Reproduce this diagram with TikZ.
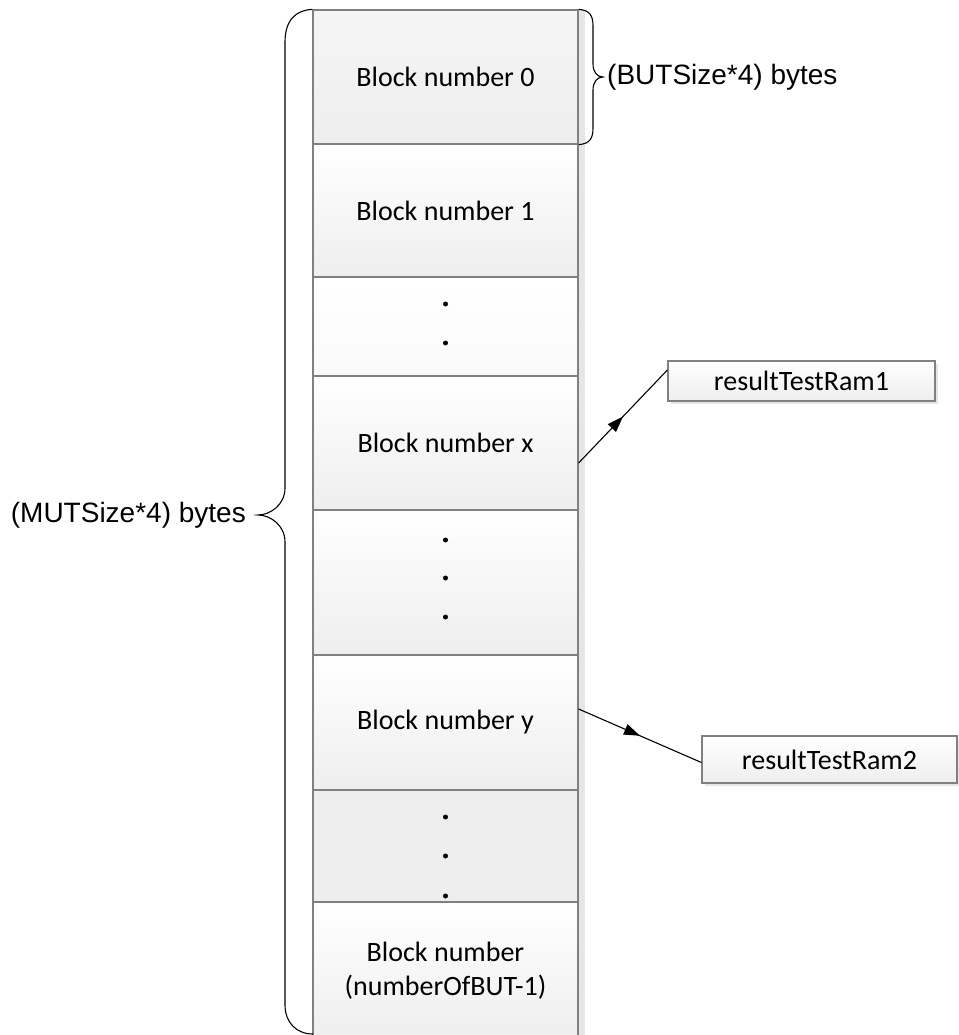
\documentclass[tikz,border=0pt]{standalone}
\usepackage{fontspec}
\setmainfont{Carlito}
\newfontfamily\arialf{Liberation Sans}
\usetikzlibrary{arrows.meta,decorations.markings}
\definecolor{edgegray}{HTML}{808080}
\definecolor{shadegray}{HTML}{EEEEEE}
\definecolor{shadowgray}{HTML}{E6E6E6}
\tikzset{
  memblock/.style={draw=edgegray, line width=1.2pt, rectangle, inner sep=0pt,
    minimum width=265pt, top color=white, bottom color=shadegray,
    font=\fontsize{28}{34}\selectfont, align=center},
  resbox/.style={draw=edgegray, line width=1.2pt, rectangle, inner sep=0pt,
    top color=white, bottom color=shadegray,
    font=\fontsize{28}{34}\selectfont},
  bracelabel/.style={font=\arialf\fontsize{28}{34}\selectfont, inner sep=0pt},
  dotmark/.style={circle, fill=black, inner sep=0pt, minimum size=5pt},
  bracepath/.style={line width=1.1pt, black},
  midarrow/.style={line width=1.1pt, postaction={decorate},
    decoration={markings, mark=at position 0.5 with {\arrow{Triangle[length=16pt,width=11pt]}}}}
}
\begin{document}
\begin{tikzpicture}[x=1pt,y=-1pt]
\useasboundingbox (0,0) rectangle (958,1035);
% column shadow
\fill[shadowgray] (578,10) rectangle (585,1040);
% blocks
\node[memblock, minimum height=134pt, top color=shadegray!60!white, bottom color=shadegray] (b0) at (445.5,77) {Block number 0};
\node[memblock, minimum height=133pt] (b1) at (445.5,210.5) {Block number 1};
\node[memblock, minimum height=99pt, top color=white, bottom color=white!98!black] (d1) at (445.5,326.5) {};
\node[memblock, minimum height=134pt] (bx) at (445.5,443) {Block number x};
\node[memblock, minimum height=145pt] (d2) at (445.5,582.5) {};
\node[memblock, minimum height=135pt] (by) at (445.5,722.5) {Block number y};
\node[memblock, minimum height=112pt, top color=shadegray, bottom color=shadegray] (d3) at (445.5,846) {};
\node[memblock, minimum height=138pt] (bl) at (445.5,971) {Block number\\(numberOfBUT-1)};
% dots
\node[dotmark] (p1) at (445.5,304) {};
\node[dotmark] (p2) at (445.5,343) {};
\node[dotmark] (p3) at (445.5,540) {};
\node[dotmark] (p4) at (445.5,578) {};
\node[dotmark] (p5) at (445.5,617) {};
\node[dotmark] (p6) at (445.5,817) {};
\node[dotmark] (p7) at (445.5,856) {};
\node[dotmark] (p8) at (445.5,896) {};
% result boxes
\fill[shadowgray] (671,364) rectangle (938,404);
\node[resbox, minimum width=267pt, minimum height=40pt] (r1) at (801.5,381) {resultTestRam1};
\fill[shadowgray] (705,739) rectangle (960,786);
\node[resbox, minimum width=255pt, minimum height=47pt] (r2) at (829.5,759.5) {resultTestRam2};
% arrows
\draw[midarrow] ([yshift=-20pt]bx.east) -- ([yshift=11pt]r1.west);
\draw[midarrow] ([yshift=13.5pt]by.east) -- ([yshift=-3pt]r2.west);
% small brace
\coordinate (sbt) at (b0.north east);
\coordinate (sbb) at (b0.south east);
\draw[bracepath] (sbt) .. controls (590,10) and (593,16) .. (593,26)
  -- (593,64) .. controls (593,72) and (597,77) .. (603,77)
  .. controls (597,77) and (593,82) .. (593,90)
  -- (593,128) .. controls (593,138) and (590,144) .. (sbb);
\node[bracelabel, anchor=west] (lb) at (607,77) {(BUTSize*4) bytes};
% big brace
\coordinate (bbt) at (b0.north west);
\coordinate (bbb) at (313,1034);
\draw[bracepath] (bbt) .. controls (296,10) and (285,20) .. (285,42)
  -- (285,488) .. controls (285,505) and (270,515) .. (258,515)
  .. controls (270,515) and (285,525) .. (285,542)
  -- (285,1005) .. controls (285,1022) and (296,1034) .. (bbb);
\node[bracelabel, anchor=east] (lm) at (246,515) {(MUTSize*4) bytes};
\end{tikzpicture}
\end{document}
